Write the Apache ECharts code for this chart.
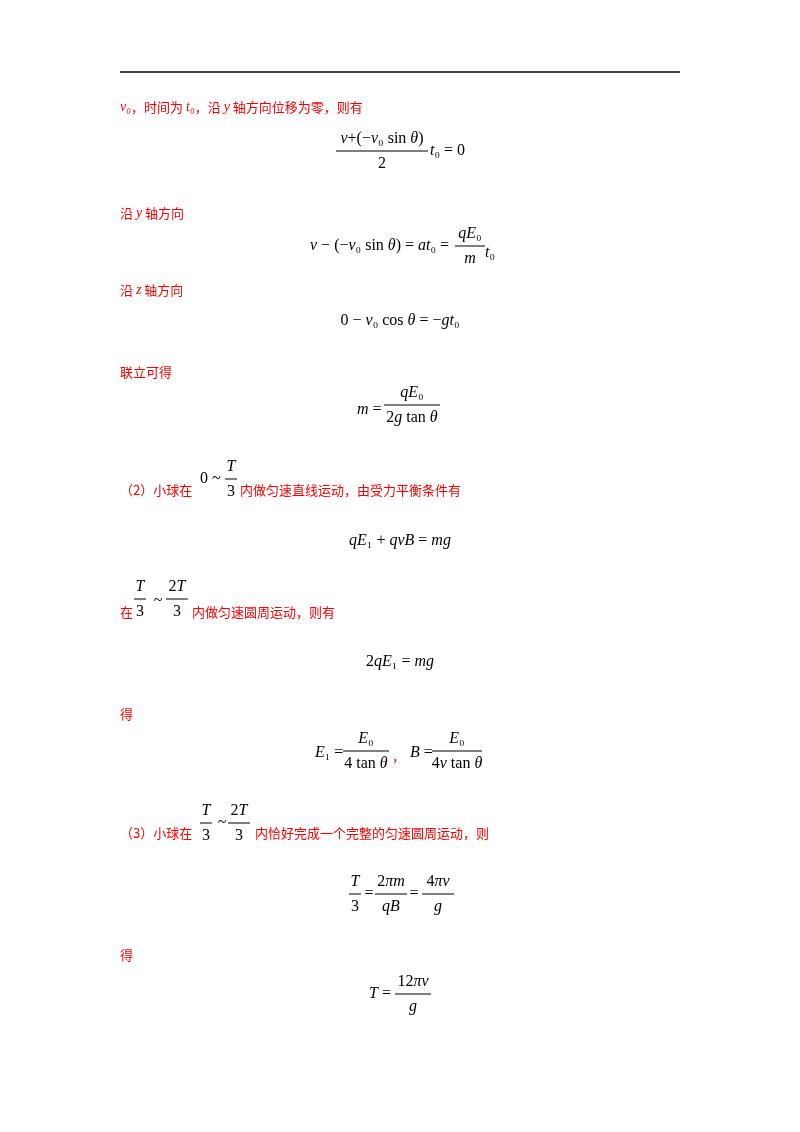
<!DOCTYPE html>
<html><head><meta charset="utf-8">
<script src="https://cdn.jsdelivr.net/npm/echarts@6/dist/echarts.min.js"></script>
<style>html,body{margin:0;background:#fff}#c{width:800px;height:1132px}</style>
</head><body><div id="c"></div>
<script>
// Text content
const proseLines = [
  ["v₀，时间为 t₀，沿 y 轴方向位移为零，则有", 120, 107],
  ["沿 y 轴方向", 120, 213],
  ["沿 z 轴方向", 120, 290],
  ["联立可得", 120, 372],
  ["（2）小球在", 120, 490],
  ["内做匀速直线运动，由受力平衡条件有", 240, 490],
  ["在", 120, 612],
  ["内做匀速圆周运动，则有", 192, 612],
  ["得", 120, 714],
  ["，", 392, 756],
  ["（3）小球在", 120, 833],
  ["内恰好完成一个完整的匀速圆周运动，则", 255, 833],
  ["得", 120, 955]
];
// inline formulas: [text, x, y, align]
const formulaTexts = [
  ["t₀ = 0", 430, 151, "left"],
  ["v − (−v₀ sin θ) = at₀ =", 310, 246, "left"],
  ["t₀", 485, 253, "left"],
  ["0 − v₀ cos θ = −gt₀", 400, 321, "center"],
  ["m =", 357, 410, "left"],
  ["0 ~", 200, 479, "left"],
  ["qE₁ + qvB = mg", 400, 541, "center"],
  ["~", 158, 601, "center"],
  ["2qE₁ = mg", 400, 662, "center"],
  ["E₁ =", 315, 753, "left"],
  ["B =", 410, 753, "left"],
  ["~", 222, 823, "center"],
  ["=", 369, 894, "center"],
  ["=", 414, 894, "center"],
  ["T =", 369, 994, "left"]
];
// fractions: [numerator, denominator, cx, barY, barWidth]
const fractions = [
  ["v+(−v₀ sin θ)", "2", 382, 151, 92],
  ["qE₀", "m", 470, 246, 30],
  ["qE₀", "2g tan θ", 412, 405, 56],
  ["T", "3", 231, 479, 12],
  ["T", "3", 140, 599, 12],
  ["2T", "3", 177, 599, 22],
  ["E₀", "4 tan θ", 366, 751, 46],
  ["E₀", "4v tan θ", 457, 751, 50],
  ["T", "3", 206, 823, 12],
  ["2T", "3", 239, 823, 22],
  ["T", "3", 355, 894, 12],
  ["2πm", "qB", 391, 894, 32],
  ["4πv", "g", 438, 894, 32],
  ["12πv", "g", 413, 994, 36]
];

const MATH = '"Liberation Serif","DejaVu Serif",serif';
function toRich(s){
  const parts = s.split(/(sin|cos|tan|[0-9₀₁=+\-−()~,·\s]+)/).filter(p=>p.length);
  return parts.map(p => (/^(sin|cos|tan|[0-9₀₁=+\-−()~,·\s]+)$/.test(p) ? '{n|' : '{i|') + p + '}').join('');
}
function proseRich(s){
  const parts = s.split(/([a-z]+[₀₁]?)/).filter(p=>p.length);
  return parts.map(p => (/^[a-z]/.test(p) ? '{i|' : '{c|') + p + '}').join('');
}
const rich = {
  i: {fontFamily: MATH, fontStyle: 'italic', fontSize: 16, fill: '#000'},
  n: {fontFamily: MATH, fontSize: 16, fill: '#000'}
};
const proseStyle = {
  c: {fontFamily: '"Noto Sans CJK SC"', fontSize: 13, fill: '#ff0000'},
  i: {fontFamily: MATH, fontStyle: 'italic', fontSize: 14, fill: '#ff0000'}
};
const g = [];
g.push({type:'line', shape:{x1:120,y1:72,x2:680,y2:72}, style:{stroke:'#000', lineWidth:1.5}});
proseLines.forEach(([t,x,y]) => g.push({type:'text', style:{x, y, text:proseRich(t), rich:proseStyle,
  textVerticalAlign:'middle', textAlign:'left'}}));
formulaTexts.forEach(([t,x,y,a]) => g.push({type:'text', style:{x, y, text:toRich(t), rich,
  textAlign:a, textVerticalAlign:'middle'}}));
fractions.forEach(([num,den,cx,by,w]) => {
  g.push({type:'line', shape:{x1:cx-w/2,y1:by,x2:cx+w/2,y2:by}, style:{stroke:'#000', lineWidth:1}});
  g.push({type:'text', style:{x:cx, y:by-12, text:toRich(num), rich, textAlign:'center', textVerticalAlign:'middle'}});
  g.push({type:'text', style:{x:cx, y:by+13, text:toRich(den), rich, textAlign:'center', textVerticalAlign:'middle'}});
});
const chart = echarts.init(document.getElementById('c'));
chart.setOption({animation:false, backgroundColor:'#fff', graphic:g});
</script></body></html>
